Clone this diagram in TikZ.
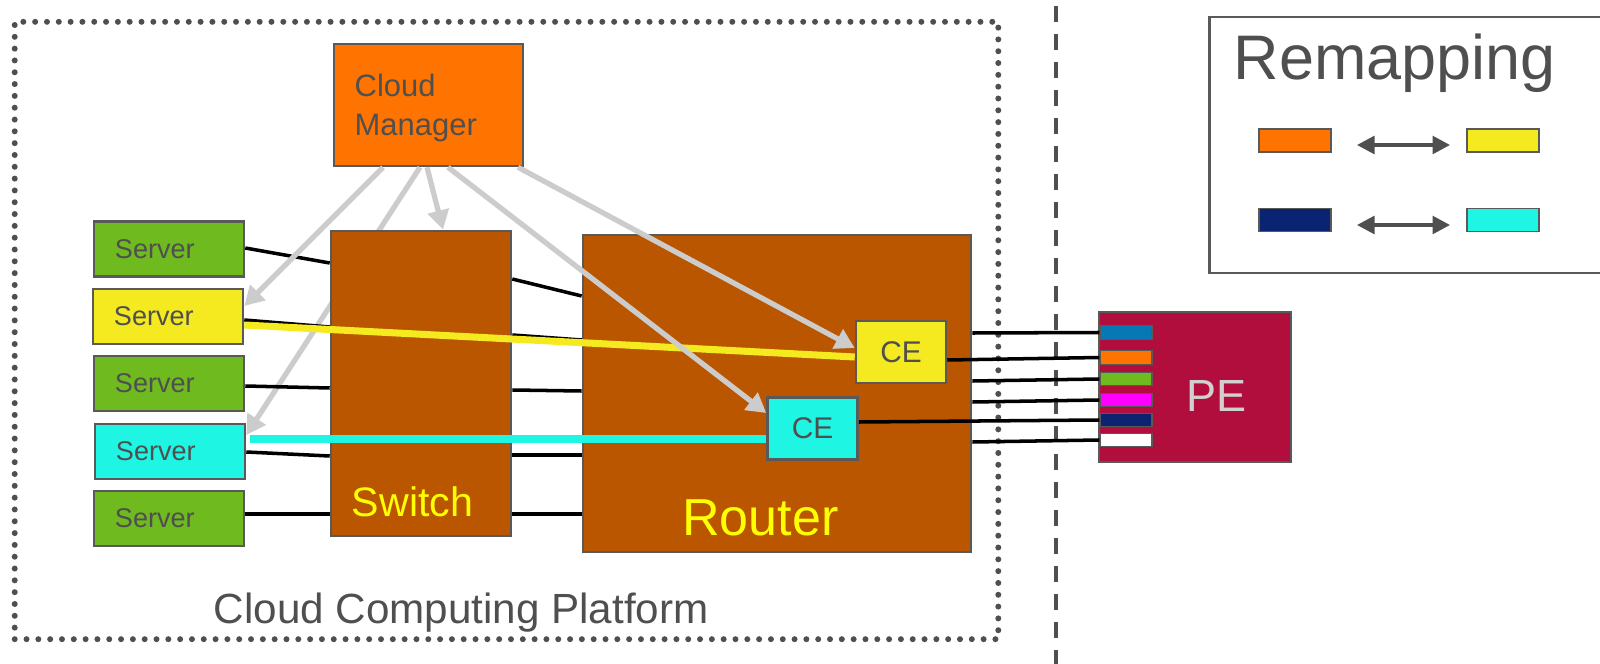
\documentclass[tikz,border=0pt]{standalone}
\usepackage{fontspec}
\setmainfont{Liberation Sans}
\usetikzlibrary{arrows.meta}

\definecolor{srvgreen}{HTML}{6EBA1F}
\definecolor{srvyellow}{HTML}{F5E920}
\definecolor{srvcyan}{HTML}{1FF5E3}
\definecolor{mgrorange}{HTML}{FF7300}
\definecolor{netbrown}{HTML}{BA5500}
\definecolor{pecrimson}{HTML}{B10D3D}
\definecolor{portnavy}{HTML}{0B2472}
\definecolor{portblue}{HTML}{0778B4}
\definecolor{portmagenta}{HTML}{FF00FF}
\definecolor{edgegray}{HTML}{595959}
\definecolor{txtgray}{HTML}{4F4F4F}
\definecolor{mgmtgray}{HTML}{CCCCCC}
\definecolor{pegray}{HTML}{D0D0D0}
\definecolor{labelyellow}{HTML}{FFFF00}

\begin{document}
\begin{tikzpicture}[x=0.01cm, y=-0.01cm,
  box/.style={draw=edgegray, line width=0.7pt, inner sep=0pt},
  server/.style={box, minimum width=1.5cm, minimum height=0.55cm, inner xsep=0.21cm,
    text width=1.08cm, align=left, text=txtgray, font=\fontsize{7.7}{9}\selectfont},
  cebox/.style={box, minimum width=0.9cm, minimum height=0.62cm, text=txtgray,
    font=\fontsize{8.5}{10}\selectfont},
  wire/.style={draw=black, line width=1pt},
  mgmt/.style={draw=mgmtgray, line width=1.5pt, -{Triangle[length=5.5pt,width=6pt]}},
  port/.style={draw=edgegray, line width=0.4pt, minimum width=0.52cm, minimum height=0.135cm, inner sep=0pt},
  swatch/.style={draw=edgegray, line width=0.5pt, minimum width=0.72cm, minimum height=0.23cm, inner sep=0pt},
  swap/.style={draw=txtgray, line width=1.1pt, {Triangle[length=5pt,width=5pt]}-{Triangle[length=5pt,width=5pt]},
    shorten <=0.25cm, shorten >=0.16cm},
]
\useasboundingbox (0,0) rectangle (1600,664);

% platform boundary and domain separator
\node[draw=txtgray, line width=1.7pt, dash pattern=on 0pt off 3.36pt, line cap=round,
  minimum width=9.83cm, minimum height=6.17cm, inner sep=0pt] (platform) at (506.5,330.5) {};
\draw[draw=txtgray, line width=1.1pt, dash pattern=on 4.55pt off 3.41pt, dash phase=6.2pt]
  (1056,0) -- (1056,664);

% cloud manager (drawn first so one arrow passes behind the switch)
\node[box, fill=mgrorange, minimum width=1.89cm, minimum height=1.22cm] (cm) at (428.5,105) {};
\node[anchor=base west, inner sep=0pt, align=left, text=txtgray, font=\fontsize{8.8}{11.1}\selectfont]
  (cml) at (354,136) {Cloud\\Manager};

% servers
\node[server, fill=srvgreen]  (s1) at (169,249)   {Server};
\node[server, fill=srvyellow] (s2) at (168,316.5) {Server};
\node[server, fill=srvgreen]  (s3) at (169,383.5) {Server};
\node[server, fill=srvcyan]   (s4) at (170,451.5) {Server};
\node[server, fill=srvgreen]  (s5) at (169,518.5) {Server};

\draw[mgmt] (cm.south -| 420,0) -- (s4.east |- 0,435);

% switch and router
\node[box, fill=netbrown, minimum width=1.8cm, minimum height=3.05cm] (sw) at (421,383.5) {};
\node[box, fill=netbrown, minimum width=3.88cm, minimum height=3.17cm] (rt) at (777,393.5) {};

% provider edge with its ports
\node[box, fill=pecrimson, minimum width=1.92cm, minimum height=1.5cm] (pe) at (1195,387) {};
\node[port, fill=portblue]    (p1) at (1126,332.5) {};
\node[port, fill=mgrorange]   (p2) at (1126,357.5) {};
\node[port, fill=srvgreen]    (p3) at (1126,379)   {};
\node[port, fill=portmagenta] (p4) at (1126,400)   {};
\node[port, fill=portnavy]    (p5) at (1126,420)   {};
\node[port, fill=white]       (p6) at (1126,440)   {};

% customer edges inside the router
\node[cebox, fill=srvyellow] (cey) at (901,352)     {CE};
\node[cebox, fill=srvcyan]   (cec) at (812.5,428.5) {CE};

% server to switch links
\draw[wire] (s1.east |- 0,248) -- (sw.west |- 0,263);
\draw[wire] (s2.east |- 0,320) -- (sw.west |- 0,327);
\draw[wire] (s3.east |- 0,386) -- (sw.west |- 0,388);
\draw[wire] (s4.east |- 0,452) -- (sw.west |- 0,456);
\draw[wire] (s5.east |- 0,514) -- (sw.west |- 0,514);

% switch to router links
\draw[wire] (sw.east |- 0,279) -- (rt.west |- 0,296);
\draw[wire] (sw.east |- 0,335) -- (rt.west |- 0,340);
\draw[wire] (sw.east |- 0,390) -- (rt.west |- 0,391);
\draw[wire] (sw.east |- 0,455) -- (rt.west |- 0,455);
\draw[wire] (sw.east |- 0,514) -- (rt.west |- 0,514);

% router to provider edge links
\draw[wire] (rt.east |- 0,333)  -- (p1.west);
\draw[wire] (cey.east |- 0,360) -- (p2.west);
\draw[wire] (rt.east |- 0,381)  -- (p3.west);
\draw[wire] (rt.east |- 0,402)  -- (p4.west);
\draw[wire] (cec.east |- 0,422) -- (p5.west);
\draw[wire] (rt.east |- 0,442)  -- (p6.west);

% tenant paths
\draw[draw=srvyellow, line width=2pt] (s2.east |- 0,325) -- (cey.west |- 0,357);
\draw[draw=srvcyan, line width=2.2pt] (250,439) -- (cec.west |- 0,439);

% management arrows
\draw[mgmt] (cm.south -| 383,0) -- (s2.east |- 0,306);
\draw[mgmt] (cm.south -| 427,0) -- (sw.north -| 443,0);
\draw[mgmt] (cm.south -| 448,0) -- (cec.west |- 0,413);
\draw[mgmt] (cm.south -| 518,0) -- (cey.west |- 0,348);

% labels
\node[anchor=base, inner sep=0pt, text=labelyellow, font=\fontsize{11.7}{14}\selectfont]
  (swl) at (412.5,516) {Switch};
\node[anchor=base, inner sep=0pt, text=labelyellow, font=\fontsize{14.8}{18}\selectfont]
  (rtl) at (760.5,535) {Router};
\node[anchor=base, inner sep=0pt, text=pegray, font=\fontsize{12.8}{15}\selectfont]
  (pel) at (1216.5,411) {PE};
\node[anchor=base west, inner sep=0pt, text=txtgray, font=\fontsize{12}{14}\selectfont]
  (ccp) at (213,623) {Cloud Computing Platform};

% remapping legend
\node[draw=edgegray, line width=0.8pt, minimum width=3.98cm, minimum height=2.56cm, inner sep=0pt]
  (legend) at (1409,145) {};
\node[anchor=base west, inner sep=0pt, text=txtgray, font=\fontsize{17.9}{21}\selectfont]
  (legtitle) at (1233,80) {Remapping};
\node[swatch, fill=mgrorange] (lo) at (1295,140.5) {};
\node[swatch, fill=srvyellow] (ly) at (1503,140.5) {};
\node[swatch, fill=portnavy]  (ln) at (1295,220)   {};
\node[swatch, fill=srvcyan]   (lc) at (1503,220)   {};
\draw[swap] (lo.east |- 0,145) -- (ly.west |- 0,145);
\draw[swap] (ln.east |- 0,225) -- (lc.west |- 0,225);
\end{tikzpicture}
\end{document}
